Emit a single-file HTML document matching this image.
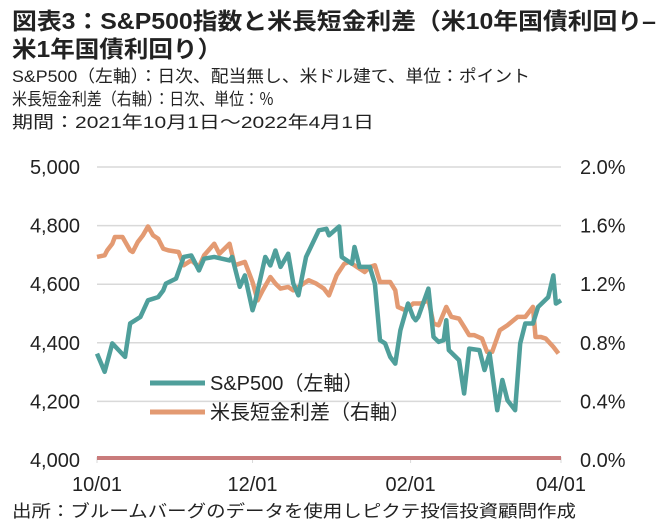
<!DOCTYPE html>
<html><head><meta charset="utf-8"><style>
html,body{margin:0;padding:0;background:#fff;}
svg{display:block;font-family:"Liberation Sans Narrow","Liberation Sans","Noto Sans CJK JP",sans-serif;}
</style></head><body>
<svg id="chart" width="663" height="528" viewBox="0 0 663 528">
<g fill="#222" font-weight="bold" font-size="23">
<text x="12" y="29" textLength="644" lengthAdjust="spacingAndGlyphs">図表3：S&amp;P500指数と米長短金利差（米10年国債利回り–</text>
<text x="12" y="57" textLength="210" lengthAdjust="spacingAndGlyphs">米1年国債利回り）</text>
</g>
<g fill="#222" font-size="17">
<text x="12" y="82" textLength="518" lengthAdjust="spacingAndGlyphs">S&amp;P500（左軸）：日次、配当無し、米ドル建て、単位：ポイント</text>
<text x="12" y="105" textLength="262" lengthAdjust="spacingAndGlyphs">米長短金利差（右軸）：日次、単位：％</text>
<text x="12" y="128" textLength="362" lengthAdjust="spacingAndGlyphs">期間：2021年10月1日～2022年4月1日</text>
</g>
<g id="grid"></g><g id="axes"></g><g id="series"></g>
<g font-size="20" fill="#222">
<line x1="150" y1="383" x2="205" y2="383" stroke="#4f9f9b" stroke-width="5"/>
<text x="210" y="390">S&amp;P500（左軸）</text>
<line x1="150" y1="412" x2="205" y2="412" stroke="#e39a72" stroke-width="5"/>
<text x="210" y="419">米長短金利差（右軸）</text>
</g>
<text x="12" y="517" font-size="17" fill="#222" textLength="564" lengthAdjust="spacingAndGlyphs">出所：ブルームバーグのデータを使用しピクテ投信投資顧問作成</text>
<script>
const spDays=[0,3,6,11,13,17,20,24,26,27,31,34,37,40,42,46,52,53,56,58,61,62,66,68,70,72,75,77,79,82,87,90,91,95,96,100,101,103,107,109,111,113,115,117,119,122,124,125,126,130,132,134,136,137,138,142,144,146,150,152,154,157,159,161,164,166,168,171,173,177,179,180,182];
const spValues=[4363,4301,4398,4352,4466,4488,4545,4556,4579,4602,4619,4693,4698,4647,4687,4693,4681,4693,4591,4630,4511,4539,4693,4664,4715,4659,4704,4602,4562,4693,4784,4789,4767,4797,4693,4670,4727,4659,4659,4602,4409,4398,4352,4329,4443,4534,4488,4477,4488,4585,4420,4403,4409,4477,4375,4341,4227,4380,4375,4307,4363,4170,4273,4204,4170,4398,4466,4466,4522,4556,4630,4534,4545];
const spreadDays=[0,3,4,6,7,10,13,14,16,18,20,22,24,26,28,32,34,37,40,42,46,48,52,54,58,61,63,65,68,70,72,75,77,81,83,86,89,91,94,97,99,102,105,107,109,111,115,117,118,121,124,127,130,132,134,137,139,142,144,146,148,151,153,155,158,161,165,168,171,172,174,176,179,181];
const spreadValues=[1.386,1.397,1.431,1.476,1.522,1.522,1.431,1.420,1.488,1.533,1.594,1.533,1.510,1.442,1.431,1.420,1.329,1.363,1.317,1.397,1.476,1.408,1.476,1.329,1.352,1.215,1.090,1.158,1.249,1.204,1.170,1.181,1.158,1.204,1.227,1.204,1.170,1.124,1.261,1.340,1.352,1.317,1.283,1.317,1.329,1.215,1.215,1.158,1.045,1.022,1.068,1.068,1.090,0.931,0.920,1.045,0.977,0.965,0.909,0.852,0.852,0.829,0.738,0.738,0.886,0.920,0.977,0.977,1.045,0.840,0.840,0.829,0.772,0.727];
const leftTicks=[4000,4200,4400,4600,4800,5000];
const leftTickLabels=["4,000","4,200","4,400","4,600","4,800","5,000"];
const rightTicks=[0,0.4,0.8,1.2,1.6,2.0];
const rightTickLabels=["0.0%","0.4%","0.8%","1.2%","1.6%","2.0%"];
const xTickDays=[0,61,123,182];
const xTickLabels=["10/01","12/01","02/01","04/01"];

const X0=97,X1=561,YB=460,YT=167,DMAX=182;
const x=d=>X0+(d/DMAX)*(X1-X0);
const yL=v=>YB-(v-4000)/1000*(YB-YT);
const yR=p=>YB-p/2*(YB-YT);
const NS="http://www.w3.org/2000/svg";
function mk(tag,attrs,parent){const e=document.createElementNS(NS,tag);for(const k in attrs)e.setAttribute(k,attrs[k]);parent.appendChild(e);return e;}
const grid=document.getElementById('grid'),axes=document.getElementById('axes'),series=document.getElementById('series');
leftTicks.forEach((t,i)=>{
 if(i>0){const g=mk('line',{x1:X0,x2:X1,y1:yL(t),y2:yL(t),stroke:'#d9d9d9','stroke-width':1.5},grid);
 
 }
 const l=mk('text',{x:80,y:yL(t)+7,'text-anchor':'end','font-size':20,fill:'#222'},axes);l.textContent=leftTickLabels[i];
 
 
});
rightTicks.forEach((t,i)=>{
 const l=mk('text',{x:580,y:yR(t)+7,'font-size':20,fill:'#222'},axes);l.textContent=rightTickLabels[i];
 
 
});
xTickDays.forEach((d,i)=>{
 const tk=mk('line',{x1:x(d),x2:x(d),y1:YB-3,y2:YB+3,stroke:'#d9d9d9'},axes);
 
 
 const l=mk('text',{x:x(d),y:YB+31,'text-anchor':'middle','font-size':20,fill:'#222'},axes);l.textContent=xTickLabels[i];
 
 
});
const base=mk('line',{x1:X0,x2:X1,y1:yR(0)-2,y2:yR(0)-2,stroke:'#c97b7b','stroke-width':4},axes);


const p2=mk('polyline',{points:spreadDays.map((d,i)=>x(d)+','+yR(spreadValues[i])).join(' '),fill:'none',stroke:'#e39a72','stroke-width':4.5,'stroke-linejoin':'round'},series);


const p1=mk('polyline',{points:spDays.map((d,i)=>x(d)+','+yL(spValues[i])).join(' '),fill:'none',stroke:'#4f9f9b','stroke-width':4.5,'stroke-linejoin':'round'},series);


</script>
</svg>
</body></html>
